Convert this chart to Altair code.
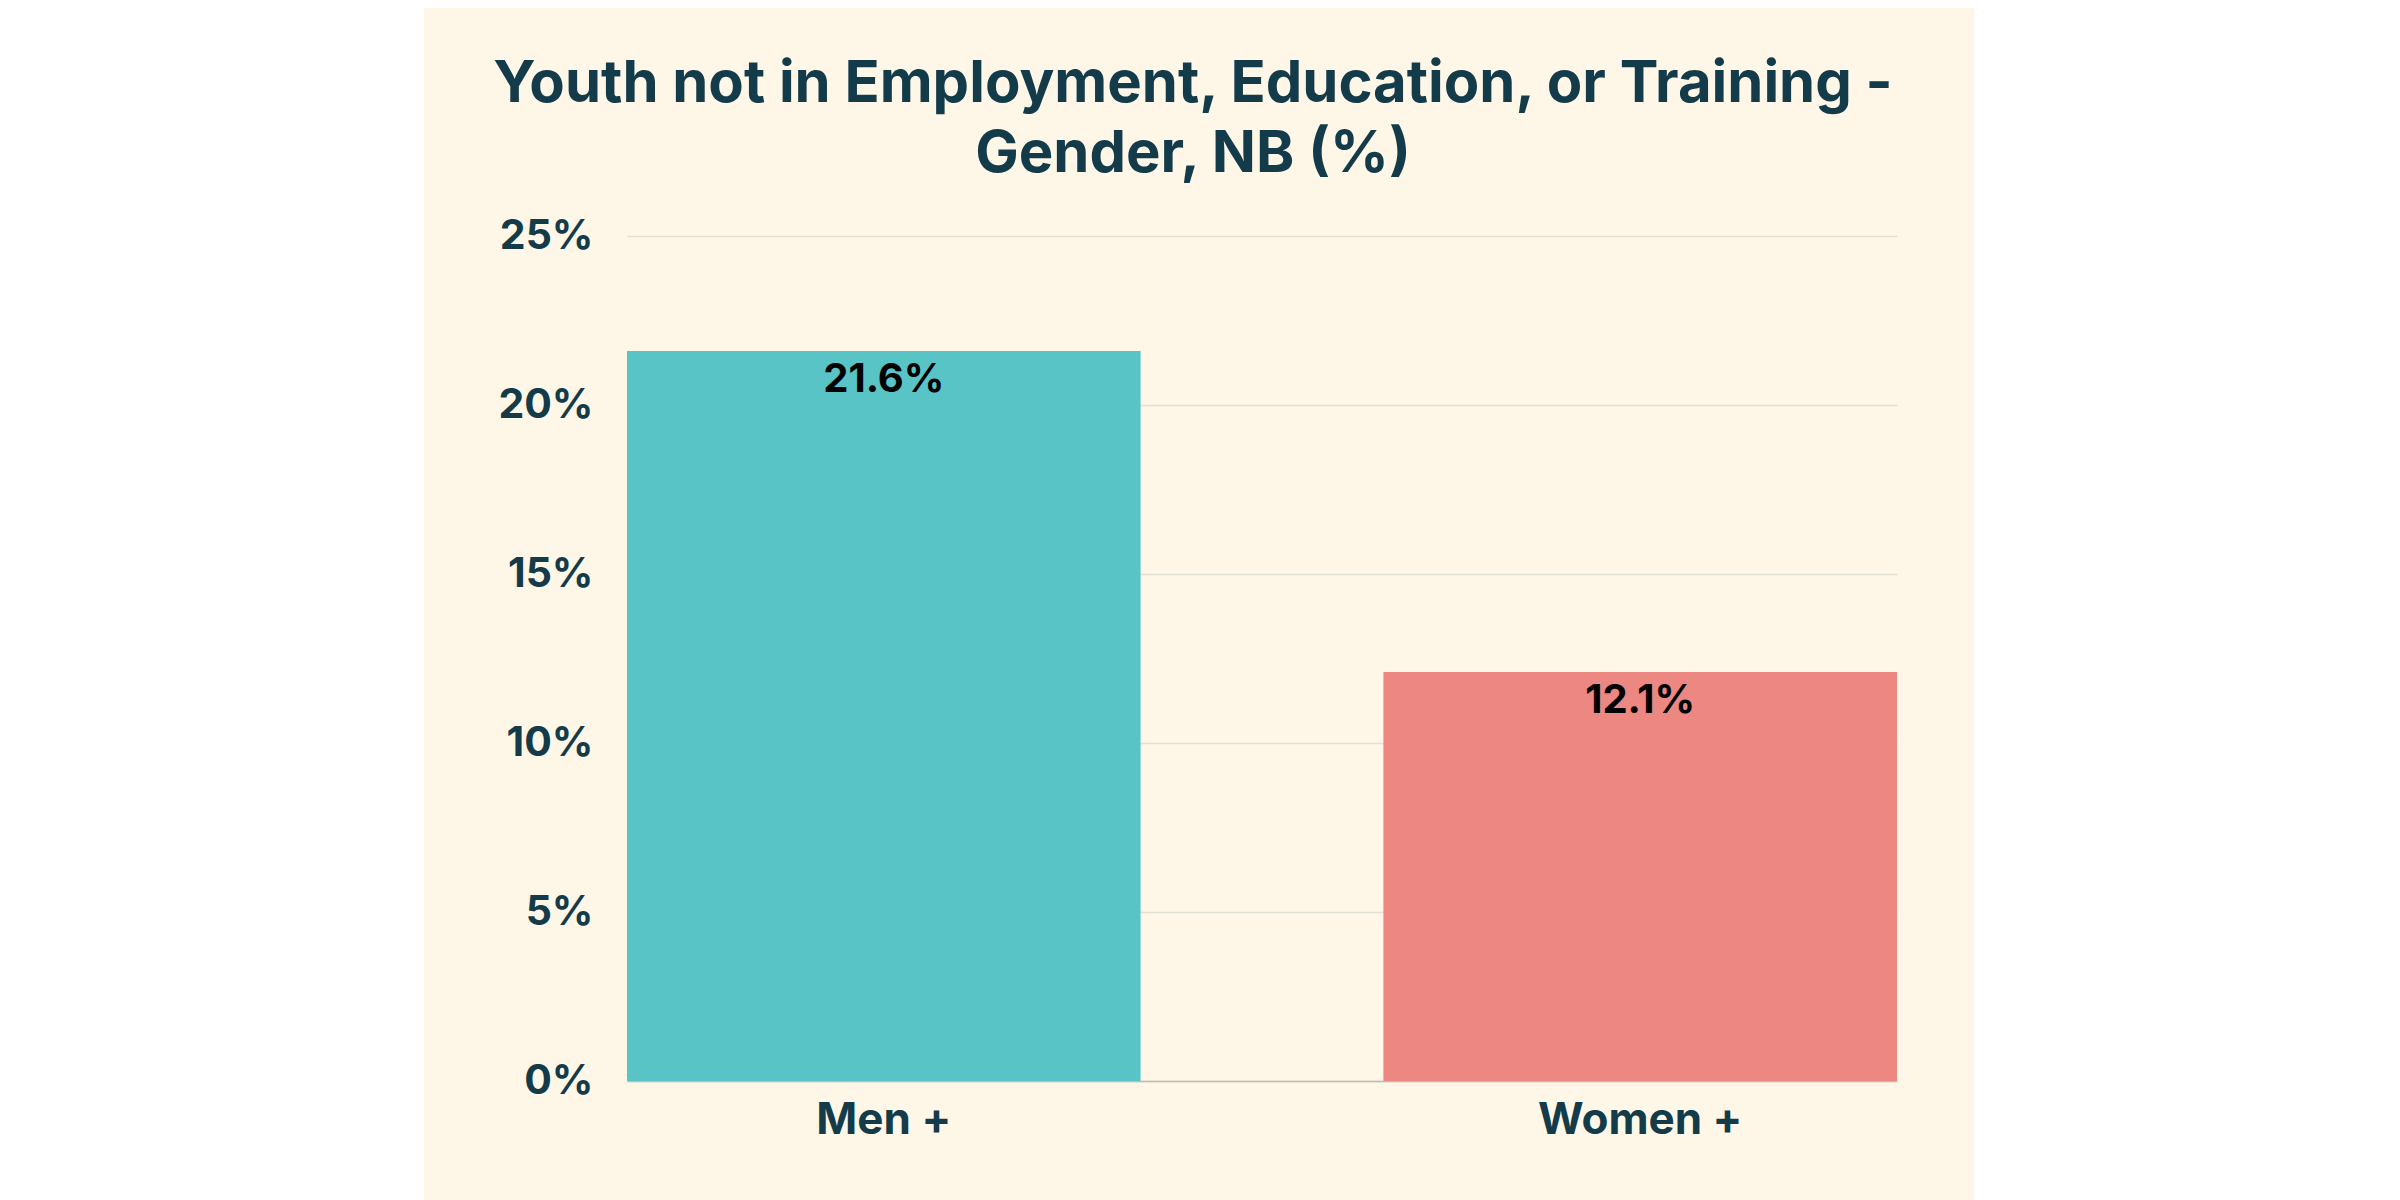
import altair as alt
import pandas as pd

# ---- data ----
categories = ["Men +", "Women +"]
values = [21.6, 12.1]
bar_colors = ["#58C4C5", "#ED8781"]
y_ticks = [0, 5, 10, 15, 20, 25]
title_lines = ["Youth not in Employment, Education, or Training -", "Gender, NB (%)"]

df = pd.DataFrame({"group": categories, "value": values})

FONT = "Inter"
DARK = "#133B4A"
CREAM = "#FEF7E8"

x_enc = alt.X(
    "group:N",
    sort=categories,
    scale=alt.Scale(range=[203, 1473], paddingInner=0.321, paddingOuter=0),
    axis=alt.Axis(
        title=None, labelAngle=0, offset=-119, labelPadding=17, ticks=False,
        domainColor="#BDBDB3", domainWidth=1.5, labelLimit=0,
        labelFontSize=44, labelFont=FONT, labelFontWeight="bold", labelColor=DARK,
    ),
)
y_enc = alt.Y(
    "value:Q",
    scale=alt.Scale(domain=[0, 25], range=[1073, 228], nice=False, zero=True),
    axis=alt.Axis(
        title=None, values=y_ticks, labelExpr="datum.value + '%'",
        offset=-169, labelPadding=0, ticks=False, domain=False,
        gridColor="#E2DFD4", gridWidth=1.5,
        labelFontSize=41, labelFont=FONT, labelFontWeight="bold", labelColor=DARK,
    ),
)

base = alt.Chart(df).transform_calculate(
    label="format(datum.value, '.1f') + '%'"
)

bars = base.mark_bar().encode(
    x=x_enc,
    y=y_enc,
    color=alt.Color("group:N", scale=alt.Scale(domain=categories, range=bar_colors), legend=None),
)

labels = base.mark_text(
    baseline="top", dy=9, fontSize=40, font=FONT, fontWeight="bold", color="black"
).encode(
    x=alt.X("group:N", sort=categories),
    y=alt.Y("value:Q"),
    text="label:N",
)

chart = alt.layer(bars, labels).properties(
    width=1550,
    height=1192,
    autosize=alt.AutoSizeParams(type="none"),
    padding={"left": 416, "top": 0, "right": 0, "bottom": 0},
    background="white",
    title=alt.TitleParams(
        text=title_lines, fontSize=58, font=FONT, fontWeight="bold", color=DARK,
        anchor="middle", baseline="top", offset=-176, dx=-6, lineHeight=70,
    ),
).configure_view(fill=CREAM, strokeWidth=0)

chart.save("out.html", embed_options={"renderer": "svg", "actions": False})
